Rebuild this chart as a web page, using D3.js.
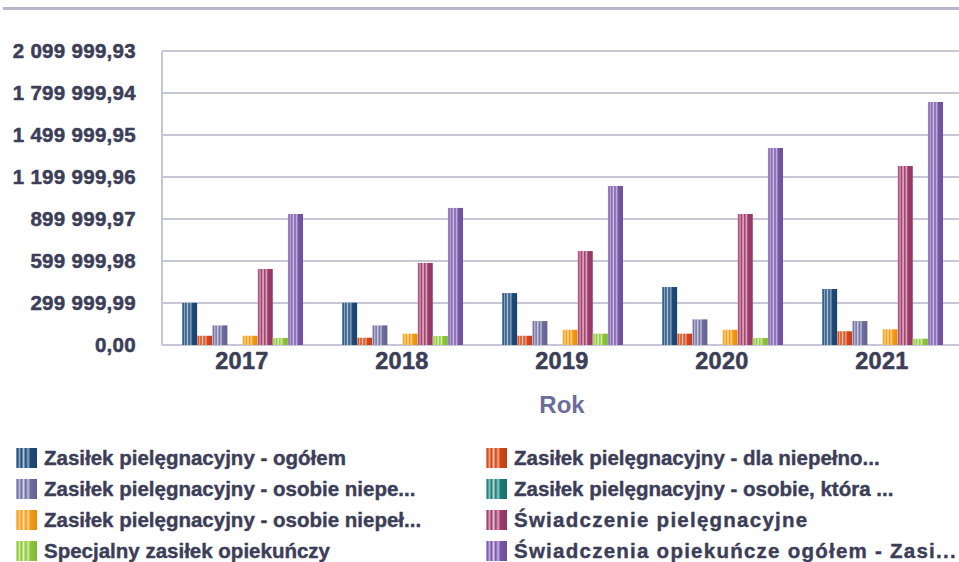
<!DOCTYPE html>
<html>
<head>
<meta charset="utf-8">
<script src="https://cdn.jsdelivr.net/npm/d3@7"></script>
<style>
  html, body { margin: 0; padding: 0; background: #fff; }
  svg { display: block; font-family: "Liberation Sans", Arial, sans-serif; }
  .heavy { paint-order: stroke; stroke-linejoin: round; }
</style>
</head>
<body>
<svg id="chart" width="959" height="562"></svg>
<script>
// Lata (kategorie osi X)
const years = ["2017", "2018", "2019", "2020", "2021"];

// Nazwy serii (tak jak w legendzie)
const seriesNames = [
  "Zasiłek pielęgnacyjny - ogółem",
  "Zasiłek pielęgnacyjny - dla niepełno...",
  "Zasiłek pielęgnacyjny - osobie niepe...",
  "Zasiłek pielęgnacyjny - osobie, która ...",
  "Zasiłek pielęgnacyjny - osobie niepeł...",
  "Świadczenie pielęgnacyjne",
  "Specjalny zasiłek opiekuńczy",
  "Świadczenia opiekuńcze ogółem - Zasi..."
];

// Wartości serii, po jednej na rok
const zpOgolem      = [301000, 302000, 371000, 414000, 400000];
const zpDlaNiepeln  = [66000, 52000, 66000, 81000, 98000];
const zpOsobieNiepe = [140000, 140000, 171000, 183000, 171000];
const zpOsobieKtora = [0, 0, 0, 0, 0];
const zpOsobieNiepel = [66000, 81000, 109000, 109000, 112000];
const swPielegn     = [543000, 586000, 671000, 936000, 1279000];
const specZasilek   = [50000, 64000, 81000, 50000, 45000];
const swOpiekOgolem = [936000, 979000, 1136000, 1407000, 1736000];

const seriesValues = [zpOgolem, zpDlaNiepeln, zpOsobieNiepe, zpOsobieKtora,
                      zpOsobieNiepel, swPielegn, specZasilek, swOpiekOgolem];

// Podziałka osi Y i jej etykiety
const yTicks = [0, 299999.99, 599999.98, 899999.97, 1199999.96, 1499999.95, 1799999.94, 2099999.93];
const yTickLabels = ["0,00", "299 999,99", "599 999,98", "899 999,97", "1 199 999,96",
                     "1 499 999,95", "1 799 999,94", "2 099 999,93"];

// Kolory serii: [ciemny, jasny]
const seriesColors = [
  ["#1d4a78", "#8fa9c6"],
  ["#d04616", "#f2a585"],
  ["#6c6c9e", "#c0c0dc"],
  ["#1e7a76", "#90cac6"],
  ["#f59a12", "#ffd592"],
  ["#9c3c6a", "#dca6c0"],
  ["#8cc63a", "#d2eba2"],
  ["#7656a6", "#c6b0e0"]
];

const textColor = "#3c3e58";
const gridColor = "#c6c6d6";

const svg = d3.select("#chart");
const defs = svg.append("defs");

// Paskowe gradienty imitujące fakturę słupków
seriesColors.forEach((c, i) => {
  const g = defs.append("linearGradient")
    .attr("id", "grad" + i)
    .attr("x1", "0%").attr("x2", "100%").attr("y1", "0%").attr("y2", "0%");
  const stops = [
    [0, c[1]], [0.08, c[0]], [0.16, c[1]], [0.26, c[0]], [0.36, d3.interpolateRgb(c[1], "#fff")(0.35)],
    [0.46, c[0]], [0.58, c[1]], [0.68, c[0]], [1, d3.interpolateRgb(c[0], "#000")(0.08)]
  ];
  stops.forEach(s => g.append("stop").attr("offset", s[0]).attr("stop-color", s[1]));
});

const plotLeft = 162, plotRight = 962, plotTop = 51, plotBottom = 345;

const y = d3.scaleLinear().domain([0, 2099999.93]).range([plotBottom, plotTop]);
const x0 = d3.scaleBand().domain(years).range([plotLeft, plotRight]).padding(0);
const x1 = d3.scaleBand().domain(d3.range(seriesNames.length))
  .range([20, x0.bandwidth() - 19]).padding(0);

// Górna linia ozdobna
svg.append("rect").attr("x", 3).attr("y", 7).attr("width", 956).attr("height", 3)
  .attr("fill", "#b8b8ca");

// Linie siatki
svg.append("g").selectAll("line").data(yTicks).join("line")
  .attr("x1", plotLeft).attr("x2", 959)
  .attr("y1", d => y(d)).attr("y2", d => y(d))
  .attr("stroke", gridColor).attr("stroke-width", 2);

// Oś pionowa
svg.append("line").attr("x1", plotLeft).attr("x2", plotLeft)
  .attr("y1", plotTop).attr("y2", plotBottom)
  .attr("stroke", gridColor).attr("stroke-width", 2);

// Etykiety osi Y
svg.append("g").selectAll("text").data(yTicks).join("text")
  .attr("class", "heavy")
  .attr("x", 136).attr("y", d => y(d) + 7)
  .attr("text-anchor", "end")
  .attr("font-size", 20.5).attr("font-weight", "bold")
  .attr("letter-spacing", 0.3)
  .attr("fill", textColor).attr("stroke", textColor).attr("stroke-width", 0.5)
  .text((d, i) => yTickLabels[i]);

// Słupki
const groups = svg.append("g").selectAll("g").data(years).join("g")
  .attr("transform", d => `translate(${x0(d)},0)`);

groups.selectAll("rect")
  .data((yr, yi) => seriesValues.map((vals, si) => ({ si, v: vals[yi] })))
  .join("rect")
  .filter(d => d.v > 0)
  .attr("x", d => x1(d.si))
  .attr("width", x1.bandwidth())
  .attr("y", d => y(d.v))
  .attr("height", d => y(0) - y(d.v))
  .attr("fill", d => `url(#grad${d.si})`);

// Etykiety osi X
svg.append("g").selectAll("text").data(years).join("text")
  .attr("class", "heavy")
  .attr("x", d => x0(d) + x0.bandwidth() / 2)
  .attr("y", 369)
  .attr("text-anchor", "middle")
  .attr("font-size", 23.5).attr("font-weight", "bold")
  .attr("letter-spacing", 0.3)
  .attr("fill", textColor).attr("stroke", textColor).attr("stroke-width", 0.5)
  .text(d => d);

// Tytuł osi X
svg.append("text").attr("x", 562).attr("y", 413)
  .attr("text-anchor", "middle")
  .attr("font-size", 24).attr("font-weight", "bold")
  .attr("fill", "#6a6c9c")
  .text("Rok");

// Legenda w dwóch kolumnach
const legendCols = [16, 486];
const legendRows = [458, 489, 520, 551];
const legend = svg.append("g").selectAll("g").data(seriesNames).join("g")
  .attr("transform", (d, i) => `translate(${legendCols[i % 2]},${legendRows[Math.floor(i / 2)]})`);

legend.append("rect")
  .attr("x", 0).attr("y", -10).attr("width", 21).attr("height", 20)
  .attr("fill", (d, i) => `url(#grad${i})`);

// Pozycje zaczynające się od „Ś” mają szerszy rozstaw liter
legend.append("text")
  .attr("class", "heavy")
  .attr("x", 28).attr("y", 7)
  .attr("font-size", 20.5).attr("font-weight", "bold")
  .attr("letter-spacing", d => d.startsWith("Ś") ? 1.25 : 0)
  .attr("fill", textColor).attr("stroke", textColor).attr("stroke-width", 0.4)
  .text(d => d);
</script>
</body>
</html>
